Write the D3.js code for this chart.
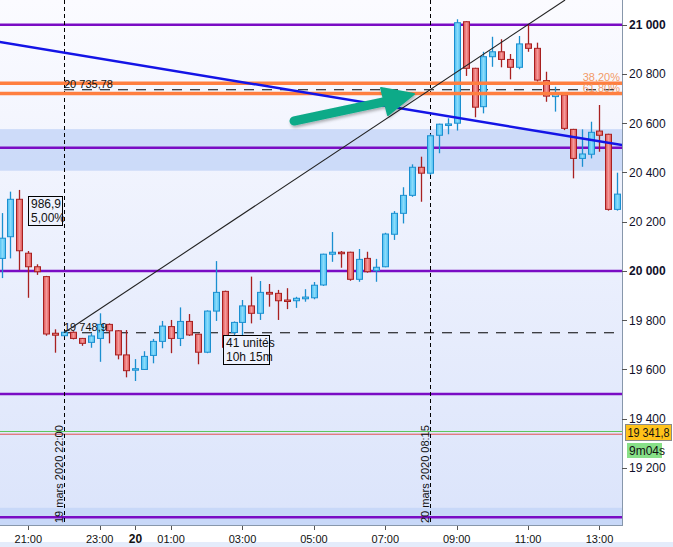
<!DOCTYPE html>
<meta charset="utf-8">
<script src="https://d3js.org/d3.v7.min.js"></script>
<style>
  body { margin: 0; background: #fff; }
  text { font-family: "Liberation Sans", Arial, sans-serif; }
</style>
<div id="chart"></div>
<script>
// 15 min candles, 19 -> 20 mars 2020
var times = ["2020-03-19 20:15","2020-03-19 20:30","2020-03-19 20:45","2020-03-19 21:00","2020-03-19 21:15","2020-03-19 21:30","2020-03-19 21:45",
  "2020-03-19 22:00","2020-03-19 22:15","2020-03-19 22:30","2020-03-19 22:45","2020-03-19 23:00","2020-03-19 23:15","2020-03-19 23:30","2020-03-19 23:45",
  "2020-03-20 00:00","2020-03-20 00:15","2020-03-20 00:30","2020-03-20 00:45","2020-03-20 01:00","2020-03-20 01:15","2020-03-20 01:30","2020-03-20 01:45",
  "2020-03-20 02:00","2020-03-20 02:15","2020-03-20 02:30","2020-03-20 02:45","2020-03-20 03:00","2020-03-20 03:15","2020-03-20 03:30","2020-03-20 03:45",
  "2020-03-20 04:00","2020-03-20 04:15","2020-03-20 04:30","2020-03-20 04:45","2020-03-20 05:00","2020-03-20 05:15","2020-03-20 05:30","2020-03-20 05:45",
  "2020-03-20 06:00","2020-03-20 06:15","2020-03-20 06:30","2020-03-20 06:45","2020-03-20 07:00","2020-03-20 07:15","2020-03-20 07:30","2020-03-20 07:45",
  "2020-03-20 08:00","2020-03-20 08:15","2020-03-20 08:30","2020-03-20 08:45","2020-03-20 09:00","2020-03-20 09:15","2020-03-20 09:30","2020-03-20 09:45",
  "2020-03-20 10:00","2020-03-20 10:15","2020-03-20 10:30","2020-03-20 10:45","2020-03-20 11:00","2020-03-20 11:15","2020-03-20 11:30","2020-03-20 11:45",
  "2020-03-20 12:00","2020-03-20 12:15","2020-03-20 12:30","2020-03-20 12:45","2020-03-20 13:00","2020-03-20 13:15","2020-03-20 13:30"];

var opens  = [20051,20139,20291,20072,20017,19977,19747,19737,19751,19726,19710,19726,19783,19757,19659,
  19598,19600,19657,19714,19774,19726,19795,19743,19670,19837,19917,19750,19791,19858,19828,19913,
  19909,19882,19879,19887,19891,19943,20068,20076,20076,19966,20051,20001,20017,20149,20234,20307,
  20421,20397,20551,20592,20600,21012,20823,20667,20870,20890,20859,20827,20922,20904,20773,20708,
  20715,20575,20457,20474,20568,20555,20250];
var highs  = [20235,20322,20329,20081,20027,19980,19763,19755,19755,19728,19747,19828,19787,19760,19760,
  19642,19674,19724,19797,19801,19852,19825,19745,19840,20040,19920,19795,19882,19977,19959,19947,
  19923,19930,19895,19926,19955,20070,20158,20081,20078,20089,20078,20049,20155,20243,20340,20433,
  20464,20555,20598,20620,21022,21014,20825,20890,20951,20941,20881,20954,20999,20927,20809,20748,
  20720,20577,20575,20606,20674,20557,20399];
var lows   = [19971,20051,20004,19891,19984,19737,19668,19735,19722,19696,19688,19631,19706,19641,19568,
  19553,19598,19625,19686,19666,19695,19736,19621,19666,19797,19680,19740,19733,19787,19801,19855,
  19801,19845,19850,19875,19885,19939,20037,20013,19960,19956,19993,19956,20015,20126,20193,20301,
  20281,20390,20478,20555,20570,20792,20624,20640,20829,20827,20778,20819,20890,20769,20687,20647,
  20572,20376,20423,20457,20484,20245,20245];
var closes = [20133,20291,20082,20017,19997,19744,19739,19751,19726,19706,19736,19783,19757,19659,19595,
  19603,19653,19714,19776,19726,19795,19740,19670,19837,19913,19690,19791,19858,19828,19913,19906,
  19879,19879,19889,19894,19942,20068,20076,20070,19966,20047,19997,20015,20150,20234,20307,20421,
  20397,20549,20596,20597,21008,20823,20665,20870,20890,20859,20827,20922,20904,20775,20710,20719,
  20579,20457,20475,20563,20551,20250,20312];

var purpleLevels = [21000, 20500, 20000, 19500, 19000];
var fiboLevels = [20762, 20721];
var fiboLabels = ["38,20%", "61,80%"];
var markLevels = [20735.78, 19748.9];
var markLabels = ["20 735,78", "19 748,9"];
var markTimes = ["2020-03-19 22:00", "2020-03-20 08:15"];
var markTexts = ["19 mars 2020 22:00", "20 mars 2020 08:15"];
var zoneBand = [20576, 20407];
var lowBand = [19038, 18900];
var blueTrend = [["2020-03-19 20:12", 20930], ["2020-03-20 13:38", 20511]];
var bid = 19348, ask = 19337;
var lastPrice = 19341.8, timer = "9m04s";
var yTicks = [21000, 20800, 20600, 20400, 20200, 20000, 19800, 19600, 19400, 19200];
var xTicks = ["2020-03-19 21:00","2020-03-19 23:00","2020-03-20 00:00","2020-03-20 01:00","2020-03-20 03:00",
  "2020-03-20 05:00","2020-03-20 07:00","2020-03-20 09:00","2020-03-20 11:00","2020-03-20 13:00"];

var W = 673, H = 547, plotW = 622, plotH = 525;
var parse = d3.timeParse("%Y-%m-%d %H:%M");
var candles = times.map((t, i) => ({t: parse(t), o: opens[i], h: highs[i], l: lows[i], c: closes[i]}));

var x = d3.scaleTime()
    .domain([new Date(2020, 2, 19, 20, 12, 26), new Date(2020, 2, 20, 13, 37, 50)])
    .range([0, plotW]);
var y = d3.scaleLinear().domain([21100.3, 18968.3]).range([0, plotH]);

var svg = d3.select("#chart").append("svg").attr("width", W).attr("height", H);
var defs = svg.append("defs");

var bg = defs.append("linearGradient").attr("id", "bg").attr("x1", 0).attr("y1", 0).attr("x2", 0).attr("y2", 1);
bg.append("stop").attr("offset", "0%").attr("stop-color", "#fbfbff");
bg.append("stop").attr("offset", "100%").attr("stop-color", "#dbe4fb");

var gUp = defs.append("linearGradient").attr("id", "up");
gUp.append("stop").attr("offset", "0%").attr("stop-color", "#4bbcf0");
gUp.append("stop").attr("offset", "50%").attr("stop-color", "#8adcfb");
gUp.append("stop").attr("offset", "100%").attr("stop-color", "#4bbcf0");
var gDn = defs.append("linearGradient").attr("id", "dn");
gDn.append("stop").attr("offset", "0%").attr("stop-color", "#dc5050");
gDn.append("stop").attr("offset", "50%").attr("stop-color", "#f59a9a");
gDn.append("stop").attr("offset", "100%").attr("stop-color", "#dc5050");

defs.append("clipPath").attr("id", "clip").append("rect").attr("width", plotW).attr("height", plotH);
var sh = defs.append("filter").attr("id", "shadow").attr("x", "-20%").attr("y", "-50%").attr("width", "140%").attr("height", "200%");
sh.append("feDropShadow").attr("dx", 1).attr("dy", 2).attr("stdDeviation", 1.5).attr("flood-color", "#000").attr("flood-opacity", 0.3);

// plot background
svg.append("rect").attr("width", plotW).attr("height", plotH).attr("fill", "url(#bg)");
svg.append("rect").attr("x", 0).attr("y", plotH + 17).attr("width", W).attr("height", 5).attr("fill", "#e4ecfb");

var plot = svg.append("g").attr("clip-path", "url(#clip)");

// shaded zones
[zoneBand, lowBand].forEach(b => {
  plot.append("rect").attr("x", 0).attr("width", plotW)
    .attr("y", y(b[0])).attr("height", y(b[1]) - y(b[0]))
    .attr("fill", "#c3d4f8").attr("opacity", 0.8);
});

// bid / ask lines
plot.append("line").attr("x1", 0).attr("x2", plotW).attr("y1", y(bid)).attr("y2", y(bid))
  .attr("stroke", "#5cc85c").attr("stroke-width", 1);
plot.append("line").attr("x1", 0).attr("x2", plotW).attr("y1", y(ask)).attr("y2", y(ask))
  .attr("stroke", "#e05050").attr("stroke-width", 1);

// purple levels
plot.selectAll(".lvl").data(purpleLevels).join("line")
  .attr("x1", 0).attr("x2", plotW)
  .attr("y1", d => y(d)).attr("y2", d => y(d))
  .attr("stroke", "#7a0cc4").attr("stroke-width", 2.5);

// vertical markers
markTimes.forEach((t, i) => {
  var xx = Math.round(x(parse(t))) + 0.5;
  plot.append("line").attr("x1", xx).attr("x2", xx).attr("y1", 0).attr("y2", plotH)
    .attr("stroke", "#000").attr("stroke-dasharray", "4,3");
  plot.append("text").attr("transform", `translate(${xx - 2},${plotH - 2}) rotate(-90)`)
    .attr("font-size", 11).attr("fill", "#111").text(markTexts[i]);
});

// horizontal dashed marks
var x0 = x(parse(markTimes[0]));
markLevels.forEach((v, i) => {
  plot.append("line").attr("x1", x0).attr("x2", plotW).attr("y1", y(v)).attr("y2", y(v))
    .attr("stroke", "#000").attr("stroke-dasharray", "10,8").attr("stroke-width", 1);
});

// candles
var cw = 6;
var cg = plot.append("g").selectAll("g").data(candles).join("g");
cg.append("line")
  .attr("x1", d => Math.round(x(d.t)) + 0.5).attr("x2", d => Math.round(x(d.t)) + 0.5)
  .attr("y1", d => y(d.h)).attr("y2", d => y(d.l))
  .attr("stroke", d => d.c >= d.o ? "#1a8fd0" : "#a82020").attr("stroke-width", 1.3);
cg.append("rect")
  .attr("x", d => Math.round(x(d.t)) + 0.5 - cw / 2)
  .attr("y", d => y(Math.max(d.o, d.c)))
  .attr("width", cw)
  .attr("height", d => Math.max(1.5, Math.abs(y(d.o) - y(d.c))))
  .attr("fill", d => d.c >= d.o ? "url(#up)" : "url(#dn)")
  .attr("stroke", d => d.c >= d.o ? "#1a8fd0" : "#a82020").attr("stroke-width", 1);

// fibonacci lines
plot.selectAll(".fib").data(fiboLevels).join("line")
  .attr("x1", 0).attr("x2", plotW)
  .attr("y1", d => y(d)).attr("y2", d => y(d))
  .attr("stroke", "#ff7f40").attr("stroke-width", 3.5);
fiboLabels.forEach((s, i) => {
  plot.append("text").attr("x", plotW - 2).attr("y", y(fiboLevels[i]) - 2 + i * 1)
    .attr("text-anchor", "end").attr("font-size", 11).attr("fill", "#f39a66").text(s);
});
markLevels.forEach((v, i) => {
  plot.append("text").attr("x", x0).attr("y", y(v) - 2)
    .attr("font-size", 11).attr("fill", "#111").text(markLabels[i]);
});

// blue trend line
plot.append("line")
  .attr("x1", x(parse(blueTrend[0][0]))).attr("y1", y(blueTrend[0][1]))
  .attr("x2", x(parse(blueTrend[1][0]))).attr("y2", y(blueTrend[1][1]))
  .attr("stroke", "#1414e6").attr("stroke-width", 2.5);

// black trend line through the two marks, extended
var ax = x(parse(markTimes[0])), ay = y(markLevels[1]);
var bx = x(parse(markTimes[1])), by = y(markLevels[0]);
var k = (by - ay) / (bx - ax);
plot.append("line").attr("x1", ax).attr("y1", ay)
  .attr("x2", ax + (0 - ay) / k).attr("y2", 0)
  .attr("stroke", "#222").attr("stroke-width", 1.1);

// green arrow
var arrow = plot.append("g").attr("filter", "url(#shadow)");
arrow.append("line").attr("x1", 294).attr("y1", 121).attr("x2", 388).attr("y2", 101)
  .attr("stroke", "#0eaa88").attr("stroke-width", 9).attr("stroke-linecap", "round");
arrow.append("path").attr("d", "M381,88 L414,94 L388,115 Z").attr("fill", "#0eaa88")
  .attr("stroke", "#0eaa88").attr("stroke-width", 2).attr("stroke-linejoin", "round");

// info boxes
function box(x1, y1, w, h, lines) {
  var g = plot.append("g");
  g.append("rect").attr("x", x1 + 0.5).attr("y", y1 + 0.5).attr("width", w).attr("height", h)
    .attr("fill", "#eef2fd").attr("stroke", "#000");
  lines.forEach((s, i) => g.append("text").attr("x", x1 + 3).attr("y", y1 + 12 + i * 14)
    .attr("font-size", 12).attr("fill", "#111").text(s));
}
box(28, 196, 34, 29, ["986,9", "5,00%"]);
box(223, 335, 46, 29, ["41 unités", "10h 15m"]);

// right axis
var ra = svg.append("g").attr("transform", `translate(${plotW},0)`);
ra.append("line").attr("x1", 0.5).attr("x2", 0.5).attr("y1", 0).attr("y2", plotH + 0.5).attr("stroke", "#8797ab");
ra.selectAll(".t").data(yTicks).join("line")
  .attr("x1", 0).attr("x2", 5).attr("y1", d => Math.round(y(d)) + 0.5).attr("y2", d => Math.round(y(d)) + 0.5)
  .attr("stroke", "#555");
ra.selectAll(".l").data(yTicks).join("text")
  .attr("x", 7).attr("y", d => y(d) + 4.5)
  .attr("font-size", 12).attr("fill", "#10102a")
  .attr("font-weight", d => d % 1000 === 0 ? "bold" : null)
  .text(d => d3.format(",")(d).replace(",", " "));

// bottom axis
var ba = svg.append("g").attr("transform", `translate(0,${plotH})`);
ba.append("line").attr("x1", 0).attr("x2", plotW + 1).attr("y1", 0.5).attr("y2", 0.5).attr("stroke", "#8797ab");
var xt = xTicks.map(parse);
ba.selectAll(".t").data(xt).join("line")
  .attr("x1", d => Math.round(x(d)) + 0.5).attr("x2", d => Math.round(x(d)) + 0.5)
  .attr("y1", 1).attr("y2", 5).attr("stroke", "#555");
ba.selectAll(".l").data(xt).join("text")
  .attr("x", d => x(d)).attr("y", 18).attr("text-anchor", "middle")
  .attr("font-size", d => d.getHours() === 0 ? 12 : 11)
  .attr("font-weight", d => d.getHours() === 0 ? "bold" : null)
  .attr("fill", "#111")
  .text(d => d.getHours() === 0 ? d3.timeFormat("%d")(d) : d3.timeFormat("%H:%M")(d));

// last price tags
svg.append("rect").attr("x", 625.5).attr("y", 424.5).attr("width", 46).attr("height", 16)
  .attr("fill", "#ffc21a").attr("stroke", "#8a8a8a");
svg.append("text").attr("x", 627.5).attr("y", 437).attr("font-size", 12).attr("fill", "#111")
  .attr("textLength", 42).attr("lengthAdjust", "spacingAndGlyphs")
  .text(d3.format(",.1f")(lastPrice).replace(",", " ").replace(".", ","));
svg.append("rect").attr("x", 627).attr("y", 443).attr("width", 35).attr("height", 15).attr("fill", "#88e088");
svg.append("text").attr("x", 629).attr("y", 455).attr("font-size", 12).attr("fill", "#111").text(timer);
</script>
